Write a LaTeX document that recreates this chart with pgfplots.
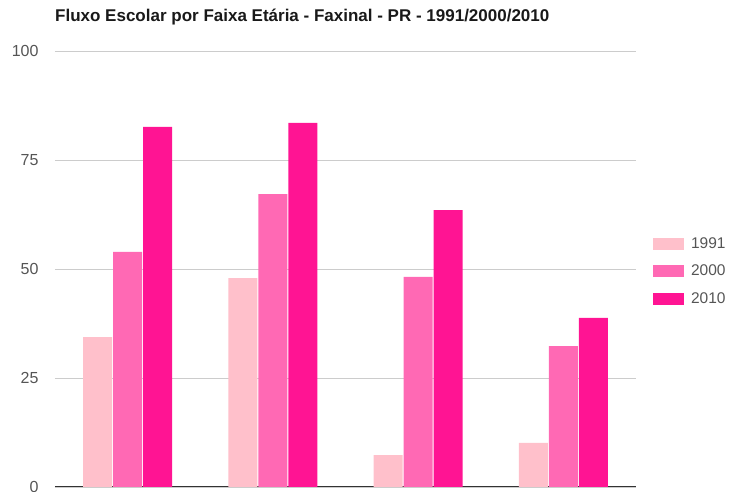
\documentclass[border=0pt]{standalone}
\usepackage{fontspec}
\setmainfont{Liberation Sans}
\usepackage{pgfplots}
\pgfplotsset{compat=1.18}
\usetikzlibrary{calc}
\definecolor{c1991}{HTML}{FFC0CB}
\definecolor{c2000}{HTML}{FF69B4}
\definecolor{c2010}{HTML}{FF1493}
\definecolor{gridc}{HTML}{CCCCCC}
\definecolor{ticktxt}{HTML}{555555}
\definecolor{basec}{HTML}{333333}

\begin{document}
\begin{tikzpicture}[x=1pt,y=1pt]
\begin{axis}[
  scale only axis, width=581pt, height=436pt,
  xmin=-0.5, xmax=3.5, ymin=0, ymax=100,
  ybar, bar width=29pt,
  xtick=\empty,
  ytick={0,25,50,75,100},
  ymajorgrids=true, grid style={draw=gridc, line width=0.8pt},
  axis x line*=bottom, axis y line*=left,
  x axis line style={draw=basec, line width=1pt, -},
  y axis line style={draw=none},
  tick style={draw=none},
  yticklabel style={font=\fontsize{16}{18}\selectfont, text=ticktxt, xshift=-13pt},
  /pgf/number format/assume math mode=true,
  legend style={at={(1.029,0.495)}, anchor=west, draw=none, fill=none,
    font=\fontsize{15.5}{17}\selectfont, text=ticktxt, inner sep=0pt,
    row sep=11pt, /tikz/every odd column/.append style={column sep=5pt}},
  legend image code/.code={\draw[#1, draw=none] (0pt,-6pt) rectangle (31pt,6pt);},
  legend cell align=left,
]
\coordinate (P0) at (rel axis cs:0,0);
\addplot[fill=c1991, draw=none, bar shift=-30pt] coordinates {(0,34.4) (1,47.9) (2,7.3) (3,10.1)};
\addlegendentry{1991}
\addplot[fill=c2000, draw=none, bar shift=0pt] coordinates {(0,53.9) (1,67.2) (2,48.2) (3,32.3)};
\addlegendentry{2000}
\addplot[fill=c2010, draw=none, bar shift=30pt] coordinates {(0,82.6) (1,83.5) (2,63.5) (3,38.8)};
\addlegendentry{2010}
\end{axis}
\node[anchor=base west, font=\fontsize{17}{19}\selectfont\bfseries, text=black!90, inner sep=0pt] at ($(P0)+(0,465)$) {Fluxo Escolar por Faixa Etária - Faxinal - PR - 1991/2000/2010};
\pgfresetboundingbox
\path[use as bounding box] ($(P0)+(-55,-5)$) rectangle ++(731,492);
\end{tikzpicture}
\end{document}
